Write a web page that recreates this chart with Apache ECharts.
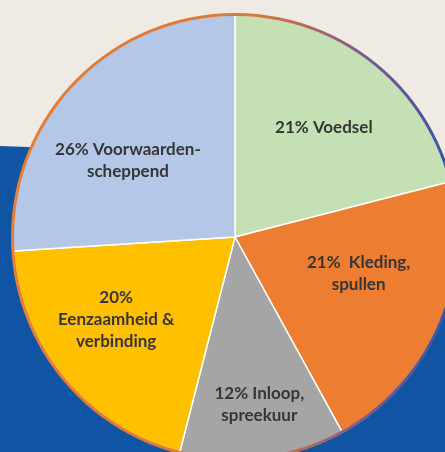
<!DOCTYPE html>
<html>
<head>
<meta charset="utf-8">
<script src="https://cdn.jsdelivr.net/npm/echarts@6/dist/echarts.min.js"></script>
<style>
  html, body { margin: 0; padding: 0; background: #EFEBE4; }
  #chart { width: 445px; height: 452px; }
</style>
</head>
<body>
<div id="chart"></div>
<script>
// aandeel per categorie (%), met de klok mee vanaf boven
const categories = ['Voedsel', 'Kleding,\nspullen', 'Inloop,\nspreekuur', 'Eenzaamheid &\nverbinding', 'Voorwaarden-\nscheppend']
const values = [21, 21, 12, 20, 26]
const separators = [' ', '  ', ' ', '\n', ' ']
const colors = ['#C5E0B4', '#ED7D31', '#A5A5A5', '#FFC000', '#B4C7E7']

// verschuiving van de labels t.o.v. de standaard 'inside' plek
const labelShift = [[19, -19], [19, -9], [10, 54], [-31, 10], [-24, 2]]

const chart = echarts.init(document.getElementById('chart'))

chart.setOption({
    animation: false,
    backgroundColor: '#EFEBE4',
    graphic: [
        {
            type: 'polygon',
            z: -10,
            shape: { points: [[0, 146], [445, 162], [445, 452], [0, 452]] },
            style: { fill: '#0F55A4' }
        }
    ],
    series: [
        {
            type: 'pie',
            center: [235, 237],
            radius: [0, 222],
            startAngle: 90,
            clockwise: true,
            silent: true,
            itemStyle: { borderColor: '#FFFFFF', borderWidth: 1.5 },
            label: {
                show: true,
                position: 'inside',
                color: '#363636',
                fontFamily: 'Lato',
                fontWeight: 'bold',
                fontSize: 17,
                lineHeight: 22,
                align: 'center',
                formatter: (p) => p.value + '%' + separators[p.dataIndex] + p.name
            },
            labelLine: { show: false },
            data: values.map((v, i) => ({
                name: categories[i],
                value: v,
                itemStyle: { color: colors[i] },
                label: { offset: labelShift[i] }
            }))
        },
        {
            // buitenrand
            type: 'pie',
            center: [235, 237],
            radius: [221, 224],
            silent: true,
            label: { show: false },
            labelLine: { show: false },
            itemStyle: {
                color: new echarts.graphic.LinearGradient(0, 0, 1, 0, [
                    { offset: 0, color: '#E57E35' },
                    { offset: 0.55, color: '#D9773D' },
                    { offset: 0.8, color: '#7A5A8C' },
                    { offset: 1, color: '#2F56A6' }
                ])
            },
            data: [1]
        }
    ]
})
</script>
</body>
</html>
